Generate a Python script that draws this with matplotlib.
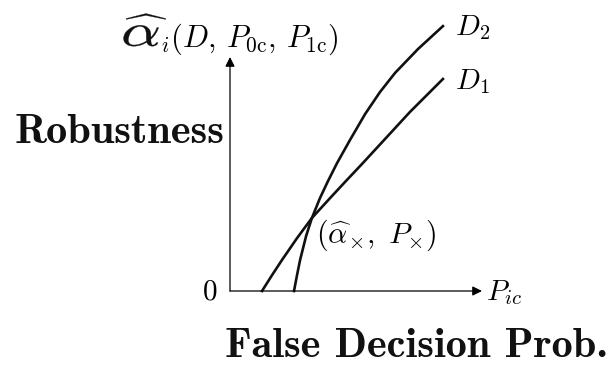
import numpy as np
import matplotlib
matplotlib.use("Agg")
import matplotlib.pyplot as plt
from matplotlib.textpath import TextPath
from matplotlib.patches import PathPatch
from matplotlib.transforms import Affine2D

plt.rcParams['mathtext.fontset'] = 'cm'
plt.rcParams['font.family'] = 'serif'

# robustness curves for the two decision rules (P_ic, alpha_hat), axis units
d1_x = [0.127, 0.167, 0.206, 0.266, 0.325, 0.397, 0.460, 0.524, 0.619, 0.714, 0.845]
d1_y = [0.000, 0.068, 0.132, 0.226, 0.312, 0.397, 0.470, 0.543, 0.654, 0.765, 0.906]
d2_x = [0.254, 0.266, 0.278, 0.302, 0.325, 0.357, 0.389, 0.425, 0.476, 0.536,
        0.595, 0.655, 0.746, 0.845]
d2_y = [0.000, 0.068, 0.132, 0.235, 0.312, 0.397, 0.470, 0.547, 0.645, 0.756,
        0.850, 0.932, 1.034, 1.132]

W, H = 616, 370
fig = plt.figure(figsize=(W / 100, H / 100), dpi=100)


def px(x, y):
    return x / W, 1 - y / H


# axes box spans origin to arrow tips
ax = fig.add_axes([230 / W, (H - 291) / H, 252 / W, 234 / H])
ax.set_xlim(0, 1)
ax.set_ylim(0, 1)
ax.axis('off')

arrow = dict(arrowstyle='-|>', lw=0.9, color='black', mutation_scale=14,
             shrinkA=0, shrinkB=0)
ax.annotate('', xy=(0, 1), xytext=(0, 0), xycoords='axes fraction', arrowprops=arrow)
ax.annotate('', xy=(1, 0), xytext=(0, 0), xycoords='axes fraction', arrowprops=arrow)

ax.plot(d1_x, d1_y, color='#111111', lw=1.9, clip_on=False, solid_joinstyle='round')
ax.plot(d2_x, d2_y, color='#111111', lw=1.9, clip_on=False, solid_joinstyle='round')

# wide alpha-hat of the y label, stretched sideways
tp = TextPath((0, 0), r'$\widehat{\alpha}$', size=32)
tr = Affine2D().scale(1.95 / W, 1.45 / H).translate(*px(121, 46)) + fig.transFigure
fig.patches.append(PathPatch(tp, transform=tr, facecolor='#111111', lw=0.2,
                             edgecolor='#111111'))
fig.text(*px(160, 47), r'${}_{i}(D,\,P_{0\mathrm{c}},\,P_{1\mathrm{c}})$', fontsize=22,
         va='baseline', ha='left')

bold = dict(fontfamily='cmb10', fontsize=30.5, va='baseline', color='#111111')
fig.text(*px(14, 143), 'Robustness', ha='left', **bold)
fig.text(*px(608, 357), 'False Decision Prob.', ha='right', **bold)

fig.text(*px(210, 299), r'$0$', fontsize=21, va='baseline', ha='center')
fig.text(*px(486, 300), r'$P_{ic}$', fontsize=21, va='baseline', ha='left')
fig.text(*px(455, 35), r'$D_2$', fontsize=21, va='baseline', ha='left')
fig.text(*px(455, 89), r'$D_1$', fontsize=21, va='baseline', ha='left')
fig.text(*px(316, 243), r'$(\widehat{\alpha}_{\times},\ P_{\times})$', fontsize=21.5,
         va='baseline', ha='left')

fig.savefig('out.png', dpi=100)
